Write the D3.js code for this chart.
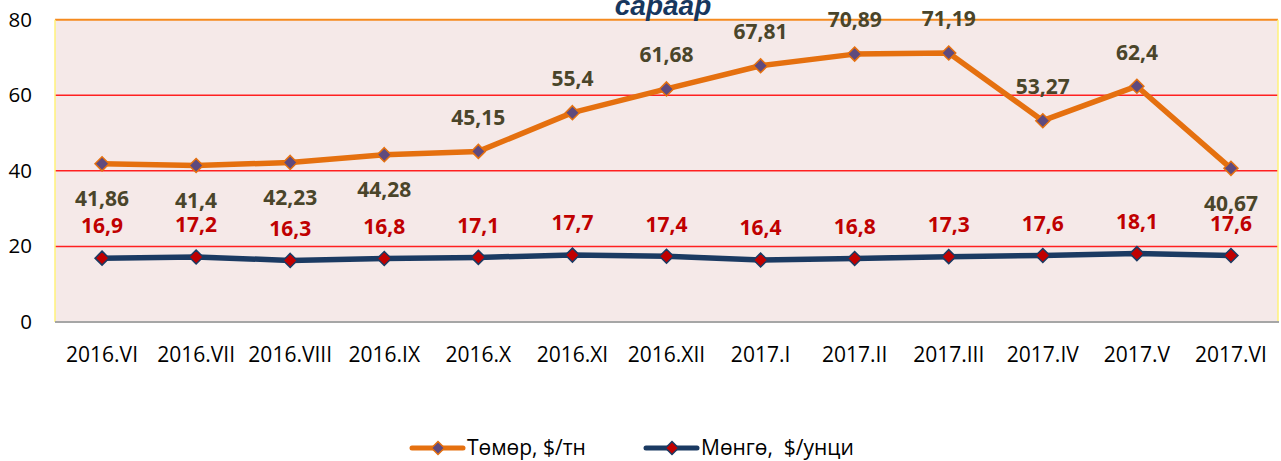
<!DOCTYPE html>
<html>
<head>
<meta charset="utf-8">
<script src="https://cdn.jsdelivr.net/npm/d3@7"></script>
<style>
  body { margin: 0; background: #fff; }
  svg { display: block; }
</style>
</head>
<body>
<svg id="chart" width="1281" height="461"></svg>
<script>
// Data
const months = ["2016.VI", "2016.VII", "2016.VIII", "2016.IX", "2016.X", "2016.XI", "2016.XII",
                "2017.I", "2017.II", "2017.III", "2017.IV", "2017.V", "2017.VI"];
const ironValues = [41.86, 41.4, 42.23, 44.28, 45.15, 55.4, 61.68, 67.81, 70.89, 71.19, 53.27, 62.4, 40.67];
const silverValues = [16.9, 17.2, 16.3, 16.8, 17.1, 17.7, 17.4, 16.4, 16.8, 17.3, 17.6, 18.1, 17.6];
// which iron labels sit under the line
const ironBelow = [true, true, true, true, false, false, false, false, false, false, false, false, true];
const yTicks = [0, 20, 40, 60, 80];
const seriesNames = ["Төмөр, $/тн", "Мөнгө,  $/унци"];

const fmt = v => String(v).replace(".", ",");
const FONT = "'Open Sans', sans-serif";

const svg = d3.select("#chart");
const plotLeft = 55, plotRight = 1278, plotTop = 19.7, plotBottom = 322;

const x = d3.scaleBand().domain(months).range([plotLeft, plotRight]);
const y = d3.scaleLinear().domain([0, 80]).range([plotBottom, plotTop]);
const cx = d => x(d) + x.bandwidth() / 2;

// plot background
svg.append("rect")
    .attr("x", plotLeft).attr("y", plotTop)
    .attr("width", plotRight - plotLeft).attr("height", plotBottom - plotTop)
    .attr("fill", "#f5e9e8");

// grid lines
svg.append("g").selectAll("line")
    .data([20, 40, 60])
    .join("line")
    .attr("x1", plotLeft).attr("x2", plotRight)
    .attr("y1", d => y(d)).attr("y2", d => y(d))
    .attr("stroke", "#ff2020").attr("stroke-width", 1.5);

// borders
svg.append("line").attr("x1", plotLeft).attr("x2", plotRight).attr("y1", y(80)).attr("y2", y(80))
    .attr("stroke", "#f58a1f").attr("stroke-width", 2);
svg.append("line").attr("x1", plotLeft).attr("x2", plotLeft).attr("y1", plotTop).attr("y2", plotBottom)
    .attr("stroke", "#fff27a").attr("stroke-width", 1.5);
svg.append("line").attr("x1", plotRight).attr("x2", plotRight).attr("y1", plotTop).attr("y2", plotBottom)
    .attr("stroke", "#fff27a").attr("stroke-width", 1.5);
svg.append("line").attr("x1", plotLeft).attr("x2", plotRight + 1).attr("y1", plotBottom).attr("y2", plotBottom)
    .attr("stroke", "#a6a6a6").attr("stroke-width", 2);

// y axis labels
const yAxis = d3.axisLeft(y).tickValues(yTicks).tickSize(0).tickPadding(23);
svg.append("g")
    .attr("transform", `translate(${plotLeft},0)`)
    .call(yAxis)
    .call(g => g.select(".domain").remove())
    .selectAll("text")
    .attr("font-family", FONT)
    .attr("font-size", 20.5)
    .attr("fill", "#000");

// x axis labels
const xAxis = d3.axisBottom(x).tickSize(0).tickPadding(25);
svg.append("g")
    .attr("transform", `translate(0,${plotBottom})`)
    .call(xAxis)
    .call(g => g.select(".domain").remove())
    .selectAll("text")
    .attr("font-family", FONT)
    .attr("font-size", 21)
    .attr("fill", "#000");

// title (partly cut off at top)
svg.append("text")
    .attr("x", 663).attr("y", 15)
    .attr("text-anchor", "middle")
    .attr("font-family", "'Liberation Sans', Arial, sans-serif")
    .attr("font-size", 28)
    .attr("font-weight", "bold")
    .attr("font-style", "italic")
    .attr("fill", "#17375e")
    .text("сараар");

const diamond = (sel, size, fill, stroke) => sel
    .attr("d", `M0,${-size}L${size},0L0,${size}L${-size},0Z`)
    .attr("fill", fill).attr("stroke", stroke).attr("stroke-width", 1.5);

const series = [
    { values: silverValues, line: "#1b3a62", fill: "#c00000", stroke: "#1b3a62" },
    { values: ironValues, line: "#e5700f", fill: "#5f4a7e", stroke: "#e5700f" }
];

const line = d3.line().x((d, i) => cx(months[i])).y(d => y(d));

series.forEach(s => {
    svg.append("path")
        .datum(s.values)
        .attr("d", line)
        .attr("fill", "none")
        .attr("stroke", s.line)
        .attr("stroke-width", 5.5)
        .attr("stroke-linejoin", "round");
    svg.append("g").selectAll("path")
        .data(s.values)
        .join("path")
        .attr("transform", (d, i) => `translate(${cx(months[i])},${y(d)})`)
        .call(diamond, 7, s.fill, s.stroke);
});

// data labels
svg.append("g").selectAll("text")
    .data(ironValues)
    .join("text")
    .attr("x", (d, i) => cx(months[i]))
    .attr("y", (d, i) => y(d) + (ironBelow[i] ? 35 : -34))
    .attr("dy", "0.35em")
    .attr("text-anchor", "middle")
    .attr("font-family", FONT)
    .attr("font-weight", "bold")
    .attr("font-size", 21)
    .attr("fill", "#4a452a")
    .text(fmt);

svg.append("g").selectAll("text")
    .data(silverValues)
    .join("text")
    .attr("x", (d, i) => cx(months[i]))
    .attr("y", d => y(d) - 32)
    .attr("dy", "0.35em")
    .attr("text-anchor", "middle")
    .attr("font-family", FONT)
    .attr("font-weight", "bold")
    .attr("font-size", 21)
    .attr("fill", "#c00000")
    .text(fmt);

// legend
const legendItems = [
    { name: seriesNames[0], x: 412, line: "#e5700f", fill: "#5f4a7e" },
    { name: seriesNames[1], x: 646, line: "#1b3a62", fill: "#c00000" }
];
const lg = svg.append("g").attr("transform", "translate(0,448)");
legendItems.forEach(it => {
    lg.append("line")
        .attr("x1", it.x).attr("x2", it.x + 51)
        .attr("stroke", it.line).attr("stroke-width", 5).attr("stroke-linecap", "round");
    lg.append("path")
        .attr("transform", `translate(${it.x + 26},0)`)
        .call(diamond, 6.5, it.fill, it.line);
    lg.append("text")
        .attr("x", it.x + 55)
        .attr("dy", "0.35em")
        .attr("font-family", FONT)
        .attr("font-size", 21)
        .attr("fill", "#000")
        .style("white-space", "pre")
        .text(it.name);
});
</script>
</body>
</html>
